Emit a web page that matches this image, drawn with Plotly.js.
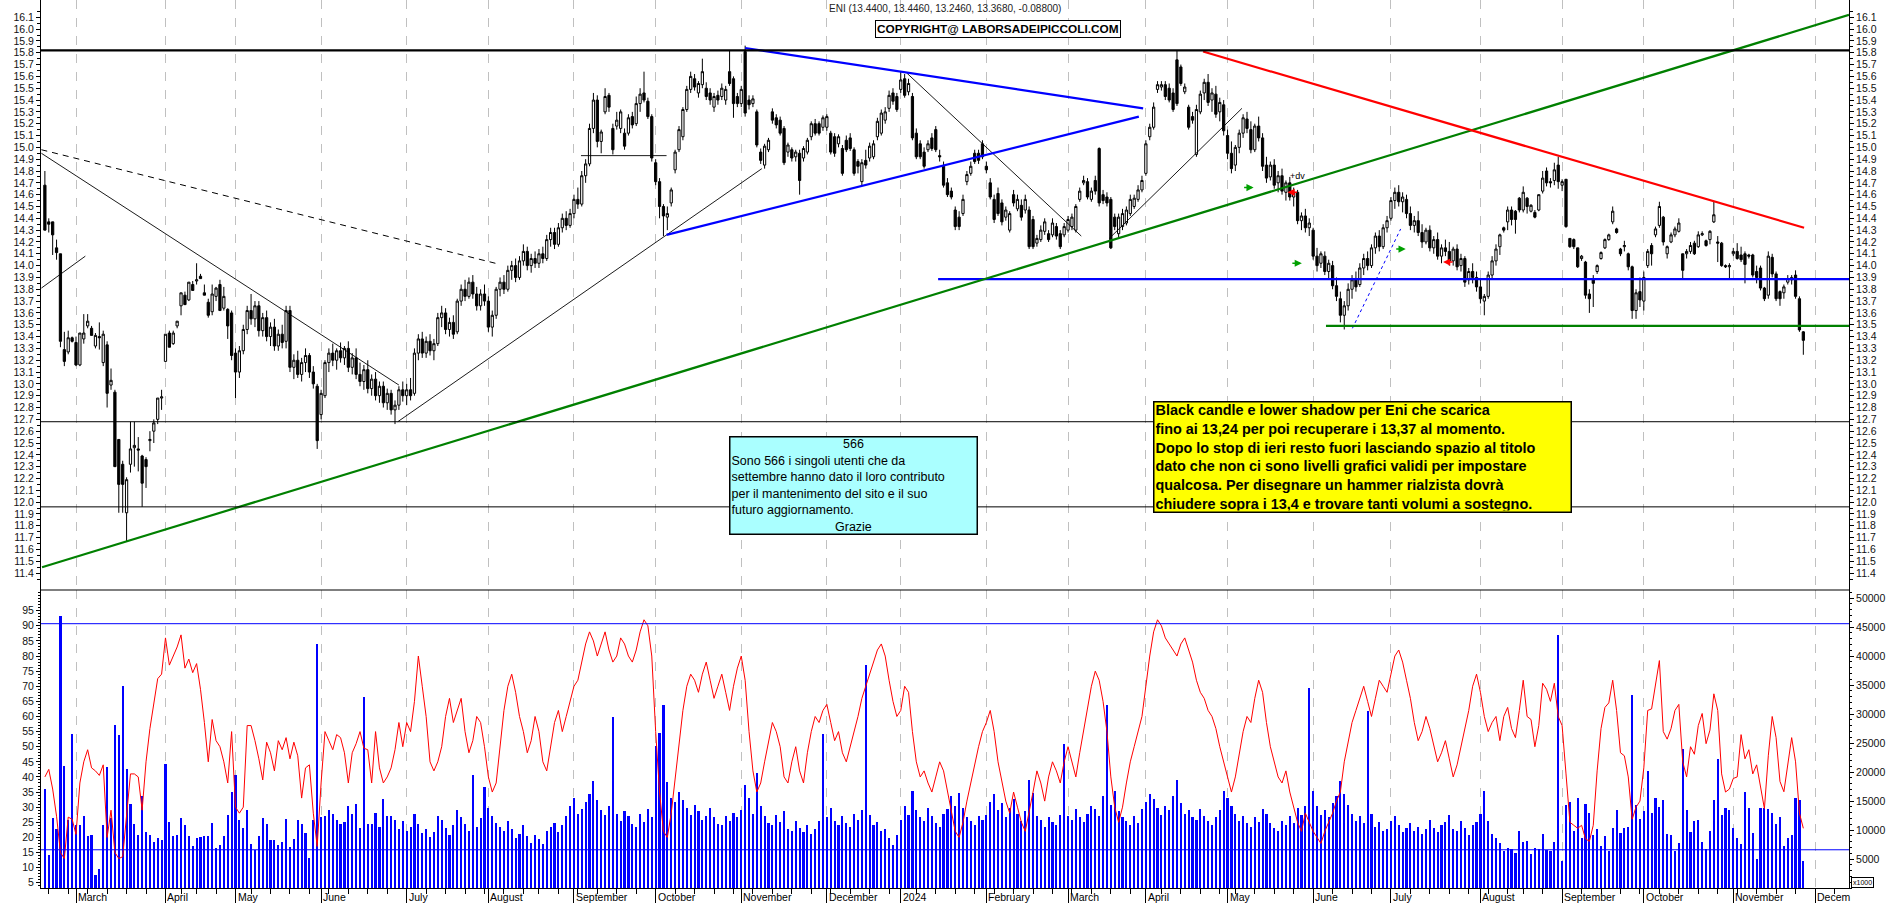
<!DOCTYPE html>
<html><head><meta charset="utf-8">
<script src="https://cdn.plot.ly/plotly-3.0.1.min.js"></script>
<style>html,body{margin:0;padding:0;background:#fff;}#chart{width:1890px;height:903px;}</style>
</head><body><div id="chart"></div>
<script>
// ---------- calendar ----------
const firstSession = '2023-02-17';
const closedDays = ['2023-04-07','2023-04-10','2023-05-01','2023-08-15','2023-12-25','2023-12-26','2024-01-01','2024-03-29','2024-04-01','2024-05-01','2024-08-15','2024-12-24','2024-12-25','2024-12-26','2024-12-31'];
const monthLabels = ['March','April','May','June','July','August','September','October','November','December','2024','February','March','April','May','June','July','August','September','October','November','Decem'];

// ---------- daily prices (index 0 = first session) ----------
const open = [
14.68,14.37,14.37,14.15,14.10,13.29,13.27,13.39,13.35,13.16,
13.38,13.49,13.47,13.32,13.40,13.18,13.33,12.99,12.93,12.53,
12.32,11.91,12.32,12.46,12.45,12.39,12.36,12.52,12.60,12.70,
12.88,13.19,13.43,13.34,13.49,13.66,13.75,13.71,13.84,13.87,
13.91,13.77,13.69,13.61,13.74,13.84,13.64,13.63,13.60,13.26,
13.10,13.28,13.46,13.62,13.55,13.66,13.45,13.56,13.40,13.48,
13.32,13.42,13.36,13.62,13.14,13.20,13.08,13.18,13.24,13.10,
12.98,12.74,12.90,13.18,13.26,13.20,13.28,13.22,13.30,13.14,
13.22,13.08,13.02,13.12,12.96,13.04,12.90,12.98,12.84,12.92,
12.78,12.82,12.95,12.90,12.95,12.92,13.26,13.38,13.26,13.36,
13.28,13.34,13.56,13.60,13.46,13.52,13.44,13.70,13.80,13.74,
13.86,13.76,13.66,13.76,13.70,13.48,13.58,13.80,13.86,13.80,
13.96,14.00,13.90,14.04,14.12,14.00,14.06,14.02,14.10,14.06,
14.22,14.28,14.18,14.32,14.40,14.34,14.44,14.56,14.52,14.76,
14.86,15.16,15.40,15.05,15.30,15.44,15.16,15.18,15.16,15.12,
15.12,15.26,15.20,15.37,15.46,15.39,15.26,14.87,14.71,14.50,
14.41,14.53,14.81,14.98,15.09,15.32,15.49,15.58,15.46,15.53,
15.50,15.46,15.34,15.44,15.43,15.40,15.64,15.58,15.43,15.37,
15.81,15.40,15.37,15.30,14.96,14.85,14.98,15.30,15.25,15.23,
15.16,14.96,14.98,14.92,14.95,14.91,14.96,15.09,15.20,15.20,
15.17,15.17,15.12,15.09,15.03,14.99,15.06,15.08,14.98,14.88,
14.71,14.89,14.91,14.92,15.09,15.12,15.23,15.33,15.46,15.43,
15.49,15.58,15.47,15.43,15.12,15.03,14.96,14.98,15.08,15.15,
14.93,14.84,14.70,14.63,14.47,14.41,14.44,14.71,14.78,14.95,
14.95,15.03,14.84,14.70,14.56,14.61,14.53,14.41,14.30,14.60,
14.48,14.51,14.47,14.47,14.39,14.19,14.22,14.29,14.27,14.26,
14.33,14.27,14.26,14.30,14.33,14.30,14.56,14.70,14.71,14.56,
14.72,14.99,14.60,14.58,14.56,14.41,14.27,14.33,14.36,14.44,
14.50,14.56,14.64,14.78,15.09,15.17,15.49,15.51,15.53,15.50,
15.46,15.74,15.68,15.47,15.34,15.26,14.94,15.30,15.46,15.55,
15.40,15.45,15.30,15.36,15.10,14.95,14.85,15.00,15.12,15.24,
15.15,14.98,15.18,15.08,14.85,14.75,14.85,14.70,14.76,14.62,
14.70,14.58,14.62,14.38,14.42,14.32,14.30,14.08,14.02,14.08,
13.95,14.00,13.83,13.72,13.58,13.66,13.80,13.88,13.84,13.98,
14.06,14.00,14.15,14.25,14.16,14.32,14.40,14.55,14.62,14.54,
14.56,14.44,14.34,14.38,14.28,14.20,14.30,14.15,14.22,14.08,
14.15,14.12,14.04,14.14,14.00,14.06,13.88,13.95,13.90,13.82,
13.70,13.74,13.92,14.04,14.16,14.32,14.37,14.47,14.46,14.57,
14.47,14.57,14.46,14.45,14.47,14.63,14.80,14.71,14.72,14.85,
14.68,14.73,14.23,14.22,14.15,14.06,14.03,13.76,13.88,13.95,
14.06,14.15,14.22,14.37,14.31,14.14,14.16,14.10,13.99,13.62,
13.78,13.70,14.00,14.17,14.26,14.34,14.41,14.10,14.20,14.26,
14.29,14.10,14.10,14.12,14.19,14.16,14.26,14.21,14.22,14.37,
14.20,14.19,14.00,13.99,14.10,14.12,14.09,14.10,14.09,14.09,
13.95,13.98,13.81,13.75,14.07,13.93,13.78,13.77,13.86,13.88,
13.92,13.72,13.44];
const high = [
14.80,14.40,14.37,14.22,14.10,13.44,13.45,13.40,13.40,13.43,
13.59,13.59,13.49,13.43,13.52,13.45,13.36,13.13,12.95,12.53,
12.35,12.21,12.68,12.68,12.55,12.40,12.38,12.60,12.70,12.88,
12.95,13.42,13.45,13.45,13.53,13.77,13.78,13.86,13.87,14.02,
13.93,13.84,13.72,13.84,13.82,13.88,13.82,13.64,13.62,13.30,
13.32,13.50,13.66,13.76,13.70,13.70,13.60,13.62,13.52,13.55,
13.46,13.50,13.66,13.66,13.25,13.28,13.22,13.30,13.26,13.15,
13.00,12.95,13.20,13.30,13.34,13.30,13.35,13.32,13.36,13.26,
13.30,13.18,13.16,13.20,13.08,13.10,13.02,13.02,12.96,12.95,
12.86,12.98,13.02,13.00,13.05,13.30,13.42,13.44,13.40,13.42,
13.38,13.60,13.66,13.64,13.56,13.58,13.72,13.84,13.88,13.90,
13.92,13.82,13.80,13.84,13.74,13.62,13.82,13.90,13.92,14.00,
14.04,14.06,14.08,14.18,14.16,14.10,14.12,14.14,14.16,14.26,
14.32,14.32,14.36,14.44,14.46,14.48,14.60,14.66,14.80,14.90,
15.20,15.46,15.44,15.15,15.50,15.46,15.20,15.30,15.32,15.16,
15.28,15.30,15.43,15.50,15.64,15.42,15.28,14.90,14.74,14.52,
14.50,14.66,14.98,15.18,15.34,15.52,15.64,15.62,15.56,15.75,
15.55,15.50,15.46,15.48,15.54,15.52,15.82,15.60,15.46,15.52,
15.86,15.44,15.44,15.32,14.99,15.03,15.08,15.33,15.28,15.26,
15.18,15.04,15.00,14.98,14.98,15.01,15.08,15.22,15.24,15.22,
15.27,15.28,15.14,15.12,15.11,15.02,15.10,15.12,15.00,14.90,
14.90,14.98,15.04,15.06,15.25,15.32,15.34,15.48,15.50,15.46,
15.64,15.62,15.58,15.46,15.16,15.06,15.00,15.06,15.12,15.18,
14.98,14.88,14.74,14.66,14.50,14.46,14.60,14.80,14.88,14.98,
14.98,15.06,14.88,14.74,14.60,14.66,14.56,14.50,14.46,14.64,
14.60,14.56,14.60,14.50,14.42,14.26,14.34,14.40,14.30,14.40,
14.36,14.30,14.36,14.42,14.44,14.52,14.66,14.76,14.74,14.66,
14.76,15.00,14.64,14.62,14.58,14.44,14.44,14.48,14.50,14.60,
14.60,14.68,14.76,15.06,15.20,15.38,15.56,15.56,15.56,15.54,
15.50,15.82,15.70,15.54,15.36,15.30,15.36,15.48,15.58,15.62,
15.50,15.52,15.42,15.40,15.15,15.05,15.02,15.15,15.28,15.30,
15.22,15.20,15.26,15.12,14.92,14.88,14.90,14.80,14.82,14.72,
14.75,14.66,14.64,14.45,14.48,14.40,14.32,14.15,14.12,14.12,
14.05,14.04,13.90,13.78,13.70,13.85,13.92,13.95,14.02,14.10,
14.12,14.18,14.28,14.30,14.35,14.42,14.58,14.66,14.68,14.62,
14.60,14.50,14.42,14.46,14.35,14.32,14.34,14.25,14.28,14.18,
14.22,14.20,14.16,14.18,14.10,14.08,13.98,14.02,13.95,13.88,
13.76,13.95,14.08,14.18,14.27,14.33,14.50,14.50,14.47,14.58,
14.67,14.58,14.52,14.47,14.60,14.80,14.83,14.74,14.87,14.92,
14.73,14.73,14.23,14.23,14.15,14.09,14.04,13.80,13.92,14.01,
14.12,14.23,14.27,14.50,14.32,14.15,14.21,14.11,14.00,13.80,
13.90,13.95,14.14,14.19,14.33,14.54,14.42,14.17,14.28,14.33,
14.40,14.10,14.14,14.20,14.21,14.29,14.29,14.22,14.30,14.54,
14.25,14.20,14.01,14.02,14.15,14.19,14.16,14.12,14.10,14.10,
14.00,14.00,13.82,14.12,14.10,13.95,13.79,13.84,13.92,13.92,
13.96,13.74,13.446];
const low = [
14.30,14.28,14.09,14.05,13.31,13.15,13.25,13.35,13.15,13.15,
13.34,13.47,13.41,13.30,13.29,13.15,12.80,12.95,12.30,11.91,
11.91,11.67,12.25,12.30,12.26,11.96,12.12,12.43,12.50,12.66,
12.78,13.19,13.31,13.33,13.47,13.58,13.67,13.70,13.79,13.84,
13.89,13.75,13.56,13.58,13.70,13.62,13.62,13.38,13.20,12.88,
13.05,13.25,13.42,13.50,13.48,13.40,13.40,13.36,13.32,13.28,
13.28,13.30,13.30,13.10,13.04,13.05,13.02,13.10,13.05,12.96,
12.45,12.70,12.88,13.10,13.15,13.12,13.18,13.16,13.10,13.08,
13.04,12.98,12.95,12.92,12.90,12.86,12.84,12.80,12.78,12.74,
12.66,12.78,12.85,12.82,12.86,12.90,13.20,13.22,13.22,13.24,
13.20,13.32,13.48,13.42,13.40,13.38,13.42,13.66,13.70,13.72,
13.72,13.62,13.62,13.66,13.44,13.40,13.55,13.74,13.76,13.78,
13.88,13.86,13.88,14.00,13.96,13.94,13.98,13.98,14.02,14.04,
14.16,14.14,14.16,14.28,14.30,14.32,14.40,14.48,14.50,14.70,
14.84,15.12,15.00,14.95,15.28,15.30,14.94,15.15,15.12,14.98,
15.10,15.16,15.18,15.30,15.38,15.24,14.88,14.68,14.40,14.25,
14.30,14.50,14.78,14.96,15.06,15.30,15.46,15.48,15.42,15.50,
15.40,15.36,15.30,15.36,15.40,15.36,15.52,15.25,15.34,15.34,
15.26,15.32,15.34,15.00,14.86,14.82,14.96,15.20,15.16,15.10,
14.85,14.92,14.88,14.88,14.60,14.88,14.94,15.06,15.10,15.10,
15.14,15.14,14.94,14.92,15.00,14.76,14.96,14.97,14.76,14.78,
14.68,14.82,14.88,14.90,15.06,15.10,15.20,15.30,15.36,15.30,
15.46,15.42,15.44,15.06,14.90,14.90,14.82,14.96,14.97,14.96,
14.88,14.66,14.58,14.56,14.30,14.30,14.42,14.68,14.76,14.86,
14.86,14.90,14.78,14.56,14.36,14.42,14.34,14.38,14.28,14.50,
14.46,14.38,14.44,14.14,14.14,14.16,14.20,14.26,14.20,14.24,
14.22,14.14,14.24,14.28,14.30,14.28,14.54,14.68,14.56,14.54,
14.60,14.50,14.52,14.50,14.14,14.30,14.24,14.30,14.34,14.42,
14.48,14.54,14.62,14.76,15.06,15.15,15.46,15.48,15.40,15.38,
15.30,15.35,15.52,15.45,15.15,15.20,14.92,15.28,15.40,15.35,
15.30,15.25,15.22,15.10,14.90,14.78,14.80,14.95,15.08,15.12,
14.95,14.96,15.05,14.80,14.70,14.72,14.65,14.62,14.60,14.55,
14.55,14.50,14.35,14.30,14.28,14.25,14.05,13.95,13.98,13.92,
13.88,13.80,13.70,13.52,13.46,13.62,13.72,13.78,13.82,13.92,
13.96,13.98,14.10,14.12,14.14,14.28,14.38,14.48,14.50,14.45,
14.40,14.30,14.28,14.25,14.15,14.18,14.12,14.10,14.05,14.02,
14.08,14.00,14.00,13.96,13.95,13.82,13.84,13.85,13.78,13.68,
13.58,13.72,13.88,14.00,14.09,14.28,14.30,14.34,14.27,14.45,
14.45,14.44,14.45,14.40,14.46,14.61,14.67,14.66,14.68,14.65,
14.63,14.32,14.15,14.14,13.98,14.04,13.72,13.60,13.65,13.93,
14.05,14.14,14.21,14.35,14.27,14.08,14.12,13.96,13.55,13.55,
13.65,13.62,13.98,14.00,14.24,14.32,14.17,14.06,14.19,14.24,
14.28,13.88,14.06,14.10,14.09,14.15,14.25,14.16,14.18,14.36,
14.03,13.99,13.98,13.89,14.08,14.05,14.03,13.85,14.06,13.90,
13.85,13.79,13.70,13.72,13.90,13.70,13.66,13.72,13.84,13.84,
13.72,13.44,13.246];
const close = [
14.30,14.35,14.26,14.11,13.36,13.19,13.39,13.36,13.16,13.43,
13.43,13.53,13.41,13.41,13.39,13.42,12.92,13.03,12.30,12.15,
12.15,12.19,12.45,12.48,12.44,12.16,12.30,12.53,12.67,12.88,
12.89,13.42,13.31,13.43,13.53,13.77,13.67,13.86,13.79,13.88,
13.89,13.75,13.58,13.76,13.81,13.62,13.74,13.49,13.24,13.10,
13.28,13.46,13.62,13.55,13.66,13.45,13.56,13.40,13.48,13.32,
13.42,13.35,13.62,13.14,13.20,13.08,13.18,13.24,13.10,13.00,
12.52,12.92,13.18,13.26,13.20,13.28,13.22,13.30,13.14,13.22,
13.08,13.02,13.12,12.96,13.04,12.90,12.98,12.84,12.92,12.78,
12.82,12.95,12.90,12.95,12.90,13.26,13.38,13.26,13.36,13.28,
13.34,13.56,13.60,13.46,13.52,13.42,13.70,13.80,13.74,13.86,
13.76,13.66,13.76,13.70,13.48,13.58,13.80,13.86,13.80,13.96,
14.00,13.90,14.04,14.12,14.00,14.06,14.02,14.10,14.06,14.22,
14.28,14.18,14.32,14.40,14.34,14.44,14.56,14.52,14.76,14.86,
15.16,15.40,15.05,15.13,15.43,15.34,14.98,15.23,15.30,15.01,
15.25,15.19,15.37,15.45,15.40,15.26,14.91,14.71,14.50,14.42,
14.44,14.64,14.96,15.15,15.32,15.49,15.60,15.51,15.54,15.64,
15.43,15.40,15.43,15.40,15.50,15.49,15.54,15.37,15.37,15.49,
15.29,15.36,15.41,15.02,14.89,15.01,15.06,15.23,15.19,15.12,
14.87,15.02,14.91,14.96,14.72,14.99,15.06,15.20,15.12,15.12,
15.25,15.26,14.96,14.95,15.09,14.78,14.98,14.99,14.78,14.84,
14.87,14.85,15.01,15.03,15.22,15.29,15.30,15.44,15.39,15.32,
15.57,15.44,15.54,15.08,14.92,14.92,14.84,15.03,14.99,14.98,
14.92,14.68,14.60,14.58,14.33,14.33,14.56,14.77,14.84,14.88,
14.89,14.92,14.81,14.58,14.39,14.44,14.37,14.47,14.44,14.53,
14.56,14.41,14.56,14.16,14.16,14.23,14.30,14.37,14.22,14.36,
14.25,14.16,14.33,14.39,14.41,14.50,14.63,14.72,14.58,14.63,
14.63,14.53,14.55,14.53,14.15,14.33,14.41,14.44,14.47,14.56,
14.57,14.64,14.72,15.03,15.17,15.34,15.53,15.53,15.43,15.40,
15.32,15.37,15.54,15.51,15.17,15.23,15.32,15.45,15.55,15.38,
15.46,15.28,15.38,15.14,14.95,14.82,15.00,15.12,15.25,15.16,
14.98,15.18,15.08,14.84,14.74,14.85,14.68,14.76,14.63,14.70,
14.58,14.62,14.38,14.42,14.32,14.36,14.08,14.00,14.10,13.95,
14.02,13.83,13.74,13.58,13.66,13.80,13.88,13.82,13.98,14.06,
14.00,14.15,14.25,14.16,14.32,14.38,14.55,14.62,14.54,14.58,
14.44,14.34,14.38,14.28,14.20,14.30,14.15,14.22,14.08,14.15,
14.12,14.04,14.14,13.99,14.06,13.86,13.95,13.90,13.82,13.72,
13.74,13.92,14.04,14.14,14.26,14.30,14.47,14.39,14.39,14.47,
14.62,14.50,14.51,14.41,14.60,14.74,14.70,14.70,14.81,14.71,
14.71,14.33,14.16,14.16,13.99,14.08,13.75,13.72,13.85,14.00,
14.11,14.22,14.26,14.46,14.28,14.10,14.17,13.99,13.62,13.77,
13.71,13.90,14.12,14.10,14.31,14.50,14.20,14.16,14.26,14.31,
14.36,13.96,14.12,14.17,14.10,14.26,14.27,14.17,14.29,14.43,
14.19,14.00,13.99,14.00,14.12,14.06,14.05,14.01,14.08,13.92,
13.90,13.81,13.72,14.08,13.93,13.72,13.72,13.82,13.89,13.90,
13.74,13.456,13.368];

// ---------- volume (shares x1000 scale of the right axis) ----------
const volume = [
17000,5700,12100,10100,47000,21000,11800,26600,10900,10900,
12500,8900,9200,2300,3300,10800,20900,12100,28200,26400,
34800,20600,14500,11000,9200,15800,9700,9200,8000,8700,
8300,21400,11400,8900,9200,12100,10900,8900,7200,8600,
8800,8900,8900,11200,6900,7500,9000,12600,16500,19500,
11800,10400,13500,7600,6500,8900,12100,11100,8200,8200,
7500,7900,11900,7100,8400,11800,11000,9500,5200,11800,
42100,12200,12400,13500,12800,11800,11000,11400,14200,12800,
14500,10300,33000,11000,11100,13000,10600,15400,12500,12500,
11700,10200,11500,9800,10500,12800,11000,9500,10200,8800,
9600,12500,11800,10400,9200,10800,13500,12200,11000,9800,
19500,10500,12000,17500,13800,12400,11200,10500,9800,11500,
10200,8600,9400,10800,8900,7800,9200,8400,7600,9800,
10500,11200,9600,10800,12500,14200,15500,12800,13600,14800,
16200,18500,15200,13400,12600,14200,29500,12800,11600,13200,
12400,11000,10600,12800,11400,13600,12200,24500,26800,31500,
18200,15600,14800,16500,15200,13800,12600,14400,13200,11800,
12500,13800,12200,11000,10800,12400,11600,13000,12200,13400,
17800,15600,12800,19800,14200,12400,11200,10800,12600,11400,
13200,10200,9800,11600,10400,9600,10800,9400,10200,11600,
26500,12200,13800,11600,10800,12400,11200,10600,12800,11800,
13400,38500,12600,10800,11400,9800,10200,8600,7400,9200,
11800,14200,12600,16800,13400,12200,11600,13800,12400,11200,
10600,12800,13600,15800,14200,16400,13800,12200,11600,10800,
12400,11800,12600,14800,16200,13400,14600,12200,13800,15400,
12800,11600,13200,18600,16400,12400,11800,10600,12200,11400,
10800,12600,24800,12400,11800,13600,12200,11400,12800,14200,
13600,12400,15800,31500,14400,16800,13200,12200,11600,10800,
12400,11200,13600,14800,16200,15400,13800,12600,14200,13400,
15800,18600,14600,12800,13400,12200,11800,13600,12400,11600,
10800,12200,13400,16800,15600,14200,12800,11600,12400,11200,
10600,12200,11400,13600,12800,11200,10400,9800,11600,10800,
12400,11200,13800,12600,14200,34500,16800,14200,12600,13400,
12200,14600,15800,18400,16200,14400,12800,11600,12400,11200,
30500,12800,10600,11400,9800,10200,11600,12400,10800,9600,
10400,11200,9800,10600,9400,10200,11800,10400,9600,10800,
11400,12600,10200,9800,11600,10400,9200,10800,11400,12800,
16800,11600,9400,8600,7800,6300,6900,6700,6100,9900,
7900,8100,5900,6900,6800,9400,6600,6300,7900,43600,
4700,14400,14900,9800,15500,8700,14500,13000,9200,10200,
7200,8900,6300,10300,13500,9500,10300,10500,33300,14300,
11900,13300,20100,12900,15500,14000,15100,9400,9200,6300,
7800,24000,13500,9600,11500,11700,7900,6800,9900,15200,
22300,12600,13800,13500,10300,8700,7600,16500,13800,9500,
5000,13800,13800,13600,12900,11000,12200,7200,8700,9200,
15600,15100,4700];

// ---------- oscillator (left scale of the lower panel) ----------
const oscillator = [
40,42.5,36,27,15,13,26.7,26,21,38,
45,49,43,42,40.5,44,20,29,15,13,
13.6,28,41,41,40,29,45,56,65,72.5,
74,86,77,80,83,87,76,79,74.5,77.5,
69,58,45,59,52,50,45,38,55,30,
28,30,57,57,52,46,39,51.5,48,42,
52,49,53,46,51.5,47,33,43,44,28,
17,38,55,52,49,54,53,48,38,48,
51,55,49.5,49,38,55,43,38,40,43,
49,58,50,58,55,65,80,70,60,45,
42,45,50,60,66,58,62,66,55,48,
52,60,58,50,40,35,38,50,62,70,
74,68,60,55,48,52,60,55,45,42,
50,58,62,55,60,65,70,72,78,84,
88,85,80,84,88,82,78,80,86,84,
80,78,82,88,92,90,80,55,35,22,
20,28,40,52,62,70,74,72,68,74,
78,72,66,70,74,68,62,70,76,80,
72,55,42,35,38,45,52,58,55,50,
40,38,45,50,42,38,48,55,60,58,
62,64,58,52,55,48,45,50,55,60,
66,70,74,78,82,84,80,72,65,60,
62,70,68,55,45,40,42,38,35,40,
45,42,35,28,22,20,25,32,38,45,
50,55,58,62,55,45,38,32,28,35,
30,25,22,28,35,42,38,32,40,45,
42,38,45,50,45,40,48,55,62,70,
75,72,65,55,40,30,25,30,38,45,
50,55,60,70,80,88,92,90,86,84,
82,80,84,86,82,78,72,68,66,62,
60,56,50,45,40,35,40,48,55,60,
58,66,72,68,58,50,45,40,38,42,
35,30,25,22,28,25,22,20,18,22,
25,28,32,35,45,52,58,62,66,70,
65,60,66,72,70,68,74,80,82,78,
72,66,58,52,55,60,56,50,45,48,
52,46,40,44,50,55,62,70,74,68,
60,55,58,60,52,60,63,56,53,62,
72,60,59,50,57,71,69,65,71,60,
57,41,25,24,23,24,19.5,18.7,24,42,
56,63,64.5,72,62,48,47,40,26,30,
32,43,62,62.5,70,78.5,55,52.5,56,62,
64,45,40,50,47.5,57,61,51,55.5,67.5,
62,41,35,36,39.5,40,54,46,49,41,
44,36,29.5,47,60,53,38.5,35.1,45,53,
45,28,23];

// ---------- drawn lines (session index, price) ----------
const blackLevels = [15.82, 12.68, 11.96];
const oscLevels = [90.7, 15.9];
const dashedLine = [[-0.9, 14.98], [117, 14.01]];
const thinLines = [
  [[-0.9, 14.95], [91, 12.99]],
  [[-0.9, 13.81], [10.4, 14.08]],
  [[90.7, 12.68], [184.3, 14.82]],
  [[137.8, 14.93], [159.8, 14.93]],
  [[221.5, 15.63], [266.4, 14.25]],
  [[273.6, 14.23], [307.7, 15.33]]
];
const blueLines = [
  [[159.8, 14.26], [281.2, 15.26]],
  [[180.0, 15.84], [282.3, 15.33]],
  [[229.6, 13.885], [463.74, 13.885]]
];
const blueDashed = [[336.1, 13.47], [348.5, 14.31]];
const greenLines = [
  [[-0.74, 11.45], [463.74, 16.12]],
  [[329.3, 13.49], [463.74, 13.49]]
];
const redLines = [[[297.7, 15.81], [452.2, 14.32]]];
const arrowsRight = [[310.7, 14.66], [323.1, 14.02], [349.8, 14.14]];
const arrowsLeft = [[319.4, 14.62], [359.4, 14.03]];
const noteDv = [321.9, 14.76];

// ---------- sessions and ticks ----------
function buildSessions(n){
  const out=[]; const d=new Date(firstSession+'T12:00:00Z');
  while(out.length<n){
    const dow=d.getUTCDay(); const s=d.toISOString().slice(0,10);
    if(dow!==0 && dow!==6 && !closedDays.includes(s)) out.push(s);
    d.setUTCDate(d.getUTCDate()+1);
  }
  return out;
}
const sessions = buildSessions(470);
const monthTicks=[], weekTicks=[];
for(let i=1;i<sessions.length;i++){
  const a=new Date(sessions[i-1]+'T12:00:00Z'), b=new Date(sessions[i]+'T12:00:00Z');
  if(sessions[i].slice(0,7)!==sessions[i-1].slice(0,7)) monthTicks.push(i);
  else if(b.getUTCDay()<=a.getUTCDay() || (b-a)>4*86400000) weekTicks.push(i);
}
const XMAX = 463.74;
const ticksShown = monthTicks.filter(v=>v<=XMAX);
const priceTicks=[]; for(let k=114;k<=161;k++) priceTicks.push(k/10);
const oscTicks=[]; for(let k=5;k<=95;k+=5) oscTicks.push(k);
const volTicks=[]; for(let k=5000;k<=50000;k+=5000) volTicks.push(k);

const idx = open.map((_,i)=>i);

function seg(line, color, width, dash){
  return {type:'scatter', mode:'lines', x:[line[0][0],line[1][0]], y:[line[0][1],line[1][1]],
    xaxis:'x', yaxis:'y', line:{color:color, width:width, dash:dash||'solid'}, hoverinfo:'skip'};
}

const traces = [];
traces.push({type:'candlestick', x:idx, open:open, high:high, low:low, close:close, xaxis:'x', yaxis:'y',
  increasing:{line:{color:'#000',width:1}, fillcolor:'#ffffff'},
  decreasing:{line:{color:'#000',width:1}, fillcolor:'#000000'},
  whiskerwidth:0, hoverinfo:'skip'});
traces.push({type:'scatter', mode:'markers', x:[null], y:[null], xaxis:'x', yaxis:'y4', hoverinfo:'skip'});
traces.push(seg(dashedLine,'#000',1,'6px,5px'));
thinLines.forEach(l=>traces.push(seg(l,'#000',0.9)));
blueLines.forEach(l=>traces.push(seg(l,'#0000ff',2.2)));
traces.push(seg(blueDashed,'#0000ff',1,'3px,3px'));
greenLines.forEach(l=>traces.push(seg(l,'#008000',2.2)));
redLines.forEach(l=>traces.push(seg(l,'#ff0000',2.2)));
traces.push({type:'bar', x:idx, y:volume, xaxis:'x', yaxis:'y2', marker:{color:'#0000ff', line:{width:0}}, width:0.55, hoverinfo:'skip'});
traces.push({type:'scatter', mode:'lines', x:idx, y:oscillator, xaxis:'x', yaxis:'y3', line:{color:'#ff0000', width:1}, hoverinfo:'skip'});

const SPLIT = 298/888;
const PW = 1808, PH = 888;
const fx = p => (p-41)/PW, fy = p => 1 - p/PH;

const shapes = [];
blackLevels.forEach((lv,k)=>shapes.push({type:'line', xref:'paper', x0:0, x1:1, yref:'y', y0:lv, y1:lv, line:{color:'#000', width:k===0?2.2:1}}));
oscLevels.forEach(lv=>shapes.push({type:'line', xref:'paper', x0:0, x1:1, yref:'y3', y0:lv, y1:lv, line:{color:'#0000ff', width:1}}));
shapes.push({type:'line', xref:'paper', yref:'paper', x0:0, x1:1, y0:SPLIT, y1:SPLIT, line:{color:'#000', width:1.2}});

const ann = [];
ann.push({xref:'paper', yref:'paper', x:0.5, y:fy(9), text:'ENI (13.4400, 13.4460, 13.2460, 13.3680, -0.08800)', showarrow:false, xanchor:'center', yanchor:'middle', font:{size:10, color:'#222'}});
ann.push({xref:'paper', yref:'paper', x:fx(998), y:fy(29), text:'<b>COPYRIGHT@ LABORSADEIPICCOLI.COM</b>', showarrow:false, xanchor:'center', yanchor:'middle', font:{size:11.8, color:'#000'}, bgcolor:'#fff', bordercolor:'#000', borderwidth:1, borderpad:1});
ann.push({xref:'paper', yref:'paper', x:fx(1152.7), y:fy(400.7), xanchor:'left', yanchor:'top', showarrow:false, align:'left', valign:'middle',
  width:414, height:107, bgcolor:'#ffff00', bordercolor:'#000', borderwidth:1.5, borderpad:1,
  font:{size:14.4, color:'#000'},
  text:'<b>Black candle e lower shadow per Eni che scarica<br>fino ai 13,24 per poi recuperare i 13,37 al momento.<br>Dopo lo stop di ieri resto fuori lasciando spazio al titolo<br>dato che non ci sono livelli grafici validi per impostare<br>qualcosa. Per disegnare un hammer rialzista dovrà<br>chiudere sopra i 13,4 e trovare tanti volumi a sostegno.</b>'});
ann.push({xref:'paper', yref:'paper', x:fx(729.3), y:fy(435.7), xanchor:'left', yanchor:'top', showarrow:false, align:'left', valign:'middle',
  width:244, height:94, bgcolor:'#aaffff', bordercolor:'#000', borderwidth:1.5, borderpad:1,
  font:{size:12.5, color:'#000'},
  text:' <br>Sono 566 i singoli utenti che da<br>settembre hanno dato il loro contributo<br>per il mantenimento del sito e il suo<br>futuro aggiornamento.<br> '});
ann.push({xref:'paper', yref:'paper', x:fx(853), y:fy(443.5), xanchor:'center', yanchor:'middle', showarrow:false, text:'566', font:{size:12.5, color:'#000'}});
ann.push({xref:'paper', yref:'paper', x:fx(853), y:fy(526.5), xanchor:'center', yanchor:'middle', showarrow:false, text:'Grazie', font:{size:12.5, color:'#000'}});
ann.push({xref:'paper', yref:'paper', x:fx(1862), y:fy(882.5), xanchor:'center', yanchor:'middle', showarrow:false, text:'x1000', font:{size:7, color:'#000'}, bordercolor:'#000', borderwidth:1, borderpad:1, bgcolor:'#fff'});
ann.push({xref:'x', yref:'y', x:noteDv[0], y:noteDv[1], text:'+dv', showarrow:false, xanchor:'center', yanchor:'middle', font:{size:9, color:'#000'}});
arrowsRight.forEach(p=>ann.push({xref:'x', yref:'y', x:p[0], y:p[1], text:'', showarrow:true, ax:-11, ay:0, arrowcolor:'#00a000', arrowhead:2, arrowsize:0.9, arrowwidth:1.6, standoff:0}));
arrowsLeft.forEach(p=>ann.push({xref:'x', yref:'y', x:p[0], y:p[1], text:'', showarrow:true, ax:11, ay:0, arrowcolor:'#ff0000', arrowhead:2, arrowsize:0.9, arrowwidth:1.6, standoff:0}));
ticksShown.forEach((t,k)=>{
  ann.push({xref:'x', yref:'paper', x:t, y:0, xanchor:'left', yanchor:'top', xshift:0, yshift:-1, showarrow:false, text:monthLabels[k], font:{size:10.5, color:'#000'}});
});

const axFont = {size:10.5, color:'#111'};
const layout = {
  width:1890, height:903, margin:{l:41, r:41, t:0, b:15, pad:0},
  paper_bgcolor:'#fff', plot_bgcolor:'rgba(0,0,0,0)', showlegend:false,
  font:{family:'Liberation Sans, Arial, sans-serif', size:11, color:'#000'},
  boxgap:0.18, bargap:0, hovermode:false,
  xaxis:{range:[-0.997, XMAX], anchor:'y2', tickmode:'array', tickvals:ticksShown, showticklabels:false,
    ticks:'outside', ticklen:15, tickcolor:'#000', tickwidth:1,
    showgrid:true, gridcolor:'#c0c0c0', griddash:'dash', gridwidth:1,
    showline:true, linecolor:'#000', linewidth:1, zeroline:false, rangeslider:{visible:false},
    minor:{tickmode:'array', tickvals:weekTicks, ticks:'outside', ticklen:5, tickcolor:'#000', showgrid:false}},
  yaxis:{domain:[SPLIT,1], range:[11.257,16.246], anchor:'x', side:'left', tickmode:'array', tickvals:priceTicks, tickformat:'.1f',
    ticks:'outside', ticklen:4, tickcolor:'#000', showline:true, linecolor:'#000', linewidth:1, showgrid:false, zeroline:false, tickfont:axFont,
    minor:{tick0:11.35, dtick:0.1, ticks:'outside', ticklen:3, tickcolor:'#000', showgrid:false}},
  yaxis4:{overlaying:'y', range:[11.257,16.246], anchor:'x', side:'right', tickmode:'array', tickvals:priceTicks, tickformat:'.1f',
    ticks:'outside', ticklen:4, tickcolor:'#000', showline:true, linecolor:'#000', linewidth:1, showgrid:false, zeroline:false, tickfont:axFont,
    minor:{tick0:11.35, dtick:0.1, ticks:'outside', ticklen:3, tickcolor:'#000', showgrid:false}},
  yaxis2:{domain:[0,SPLIT], range:[0,51400], anchor:'x', side:'right', tickmode:'array', tickvals:volTicks, tickformat:'d',
    ticks:'outside', ticklen:4, tickcolor:'#000', showline:true, linecolor:'#000', linewidth:1, showgrid:false, zeroline:false, tickfont:axFont,
    minor:{tick0:0, dtick:1000, ticks:'outside', ticklen:2, tickcolor:'#000', showgrid:false}},
  yaxis3:{overlaying:'y2', range:[3.25,101.85], anchor:'x', side:'left', tickmode:'array', tickvals:oscTicks,
    ticks:'outside', ticklen:4, tickcolor:'#000', showline:true, linecolor:'#000', linewidth:1, showgrid:false, zeroline:false, tickfont:axFont,
    minor:{tick0:0, dtick:1, ticks:'outside', ticklen:2, tickcolor:'#000', showgrid:false}},
  shapes:shapes, annotations:ann
};
Plotly.newPlot('chart', traces, layout, {staticPlot:true, displayModeBar:false});
</script>
</body></html>
